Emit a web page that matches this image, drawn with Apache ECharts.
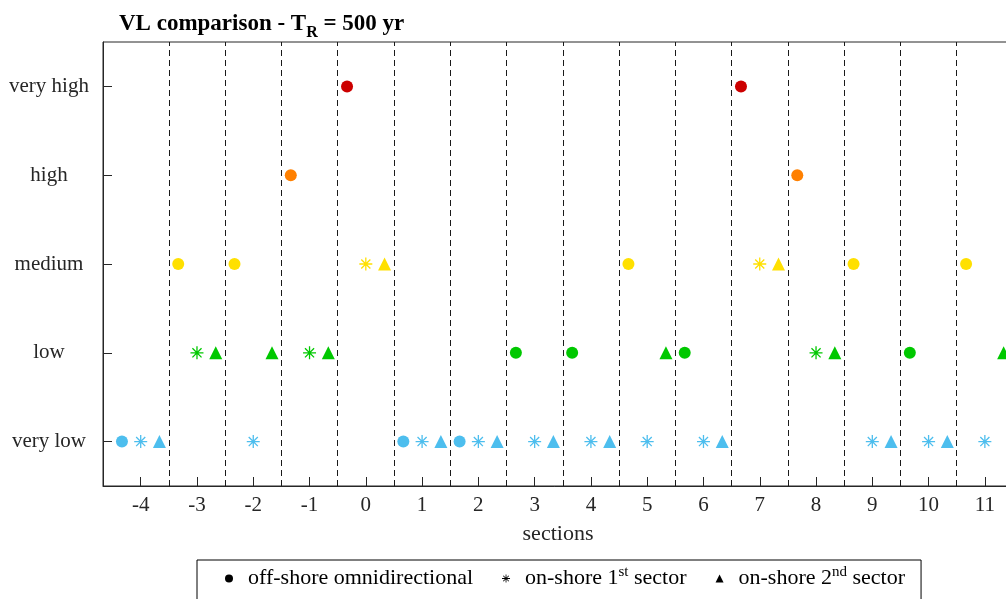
<!DOCTYPE html>
<html>
<head>
<meta charset="utf-8">
<script src="https://cdn.jsdelivr.net/npm/echarts@6/dist/echarts.min.js"></script>
<style>
  html, body { margin: 0; padding: 0; background: #fff; overflow: hidden; }
  #chart { width: 1006px; height: 599px; }
</style>
</head>
<body>
<div id="chart"></div>
<script>
// ---- data ----
const sections = [-4, -3, -2, -1, 0, 1, 2, 3, 4, 5, 6, 7, 8, 9, 10, 11];
const levels = ['very low', 'low', 'medium', 'high', 'very high'];
const offshoreOmni = ['very low', 'medium', 'medium', 'high', 'very high', 'very low', 'very low', 'low',
                      'low', 'medium', 'low', 'very high', 'high', 'medium', 'low', 'medium'];
const onshore1st = ['very low', 'low', 'very low', 'low', 'medium', 'very low', 'very low', 'very low',
                    'very low', 'very low', 'very low', 'medium', 'low', 'very low', 'very low', 'very low'];
const onshore2nd = ['very low', 'low', 'low', 'low', 'medium', 'very low', 'very low', 'very low',
                    'very low', 'low', 'very low', 'medium', 'low', 'very low', 'very low', 'low'];
const seriesNames = ['off-shore omnidirectional', 'on-shore 1st sector', 'on-shore 2nd sector'];

// ---- styles ----
const levelColors = { 'very low': '#4DBEEE', 'low': '#00C800', 'medium': '#FFE000', 'high': '#FF8000', 'very high': '#CC0000' };
const FONT = '"Liberation Serif", "Times New Roman", serif';
const AXIS = '#262626';
const ASTERISK = 'path://M0 45L100 45L100 55L0 55Z M45 0L55 0L55 100L45 100Z ' +
  'M11.46 18.54L18.54 11.46L88.54 81.46L81.46 88.54Z M81.46 11.46L88.54 18.54L18.54 88.54L11.46 81.46Z';

function buildPoints(levelList, offset) {
  return sections.map((s, i) => ({
    value: [s + offset, levelList[i]],
    itemStyle: { color: levelColors[levelList[i]] }
  }));
}
const boundaries = sections.slice(0, -1).map(s => s + 0.5);

const chart = echarts.init(document.getElementById('chart'), null, { renderer: 'canvas' });
chart.setOption({
  animation: false,
  backgroundColor: '#fff',
  title: {
    left: 114, top: 4,
    text: '{b|VL comparison - T}{s|R}{b| = 500 yr}',
    textStyle: {
      rich: {
        b: { fontFamily: FONT, fontWeight: 'bold', fontSize: 23, color: '#000', lineHeight: 30 },
        s: { fontFamily: FONT, fontWeight: 'bold', fontSize: 16, color: '#000', lineHeight: 30, padding: [18, 0, 0, 0] }
      }
    }
  },
  grid: {
    left: 103, top: 42, width: 910, height: 444,
    outerBoundsMode: 'none',
    containLabel: false,
    show: true, borderColor: AXIS, borderWidth: 1, backgroundColor: 'transparent'
  },
  legend: {
    left: 197, top: 560,
    orient: 'horizontal',
    padding: [5, 16, 20, 28],
    itemGap: 29,
    itemWidth: 8, itemHeight: 8,
    borderColor: '#000', borderWidth: 1, borderRadius: 0,
    backgroundColor: '#fff',
    data: [
      { name: seriesNames[0], icon: 'circle' },
      { name: seriesNames[1], icon: ASTERISK },
      { name: seriesNames[2], icon: 'triangle' }
    ],
    formatter: function (name) {
      if (name === seriesNames[1]) return '{f|on-shore 1}{s|st}{t| sector}';
      if (name === seriesNames[2]) return '{f|on-shore 2}{s|nd}{t| sector}';
      return '{f|' + name + '}';
    },
    textStyle: {
      rich: {
        f: { fontFamily: FONT, fontSize: 22, color: '#000', lineHeight: 24, padding: [0, 0, 0, 10] },
        t: { fontFamily: FONT, fontSize: 22, color: '#000', lineHeight: 24 },
        s: { fontFamily: FONT, fontSize: 15, color: '#000', lineHeight: 24, padding: [0, 0, 12, 0] }
      }
    }
  },
  xAxis: {
    type: 'value',
    min: -4.67, max: 11.5,
    name: 'sections', nameLocation: 'middle', nameGap: 37,
    nameTextStyle: { fontFamily: FONT, fontSize: 22, color: '#262626' },
    axisLine: { show: true, onZero: false, lineStyle: { color: AXIS, width: 1 } },
    axisTick: { show: true, inside: true, length: 9, customValues: sections, lineStyle: { color: AXIS } },
    axisLabel: { show: true, customValues: sections, margin: 9, fontFamily: FONT, fontSize: 21, color: '#262626' },
    splitLine: { show: false }
  },
  yAxis: {
    type: 'category',
    data: levels,
    boundaryGap: true,
    axisLine: { show: true, onZero: false, lineStyle: { color: AXIS, width: 1 } },
    axisTick: { show: true, inside: true, length: 9, alignWithLabel: true, lineStyle: { color: AXIS } },
    axisLabel: { margin: 54, align: 'center', fontFamily: FONT, fontSize: 21, color: '#262626' },
    splitLine: { show: false }
  },
  series: [
    {
      name: seriesNames[0], type: 'scatter', symbol: 'circle', symbolSize: 12,
      itemStyle: { color: '#000', opacity: 1 },
      data: buildPoints(offshoreOmni, -1 / 3),
      z: 3,
      markLine: {
        silent: true, symbol: ['none', 'none'], animation: false,
        label: { show: false },
        lineStyle: { color: '#1a1a1a', width: 1, type: [6, 4] },
        emphasis: { disabled: true },
        data: boundaries.map(b => ({ xAxis: b }))
      }
    },
    {
      name: seriesNames[1], type: 'scatter', symbol: ASTERISK, symbolSize: 13,
      itemStyle: { color: '#000', opacity: 1 },
      data: buildPoints(onshore1st, 0),
      z: 3
    },
    {
      name: seriesNames[2], type: 'scatter', symbol: 'triangle', symbolSize: 13,
      itemStyle: { color: '#000', opacity: 1 },
      data: buildPoints(onshore2nd, 1 / 3),
      z: 3
    }
  ]
});
</script>
</body>
</html>
